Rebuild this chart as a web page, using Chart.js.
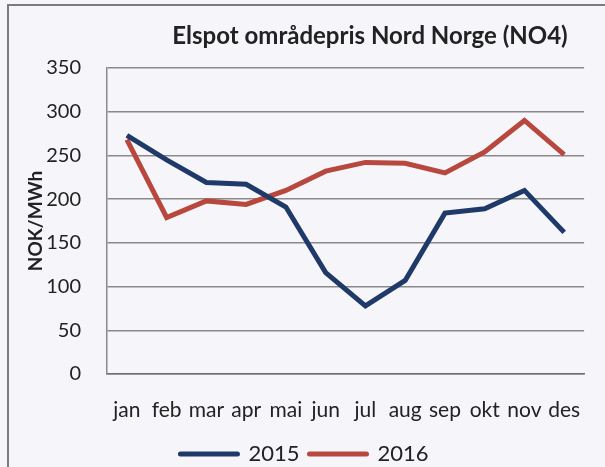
<!DOCTYPE html>
<html>
<head>
<meta charset="utf-8">
<script src="https://cdn.jsdelivr.net/npm/chart.js@4/dist/chart.umd.min.js"></script>
<style>
  html, body { margin: 0; padding: 0; background: #f6f6fa; }
  #wrap { width: 605px; height: 467px; position: relative; }
</style>
</head>
<body>
<div id="wrap"><canvas id="chart" width="605" height="467"></canvas></div>
<script>
// data (NOK/MWh)
var months = ['jan', 'feb', 'mar', 'apr', 'mai', 'jun', 'jul', 'aug', 'sep', 'okt', 'nov', 'des'];
var price2015 = [273, 245, 219, 217, 191, 116, 78, 107, 184, 189, 210, 162];
var price2016 = [268, 179, 198, 194, 210, 232, 242, 241, 230, 254, 290, 251];
var chartTitle = 'Elspot områdepris Nord Norge (NO4)';

var FONT = 'Lato, "Open Sans", sans-serif';

// frame + title, drawn by hand like the original sheet
var framePlugin = {
    id: 'frame',
    beforeDraw: function (chart) {
        var c = chart.ctx;
        c.save();
        c.fillStyle = '#f6f6fa';
        c.fillRect(0, 0, chart.width, chart.height);
        c.strokeStyle = '#7b7b82';
        c.lineWidth = 2;
        c.strokeRect(8, 5, 700, 600);
        c.restore();
    },
    afterDraw: function (chart) {
        var c = chart.ctx;
        c.save();
        c.font = 'bold 24px ' + FONT;
        c.fillStyle = '#222';
        c.textAlign = 'center';
        c.textBaseline = 'middle';
        c.fillText(chartTitle, 370, 36);
        c.restore();
    }
};

var ctx = document.getElementById('chart');
var myChart = new Chart(ctx, {
    type: 'line',
    plugins: [framePlugin],
    data: {
        labels: months,
        datasets: [
            { label: '2015', data: price2015, borderColor: '#1f3a68', backgroundColor: '#1f3a68' },
            { label: '2016', data: price2016, borderColor: '#b8473d', backgroundColor: '#b8473d' }
        ]
    },
    options: {
        responsive: false,
        animation: false,
        elements: {
            line: { borderWidth: 5, tension: 0, borderJoinStyle: 'miter' },
            point: { radius: 0 }
        },
        layout: { padding: { left: 24, top: 68, right: 20, bottom: -8 } },
        scales: {
            x: {
                offset: true,
                grid: { display: false, drawTicks: false },
                border: { display: true, color: '#6f6f6f', width: 1.5 },
                ticks: { color: '#222', font: { family: FONT, size: 21 }, padding: 24, maxRotation: 0, autoSkip: false },
                afterFit: function (scale) { scale.height = 59; }
            },
            y: {
                min: 0,
                max: 350,
                ticks: { stepSize: 50, color: '#222', font: { family: FONT, size: 20 }, padding: 26 },
                grid: { color: '#8a8a8a', lineWidth: 1.5, drawTicks: false },
                border: { display: true, color: '#8a8a8a', width: 1.5 },
                title: { display: true, text: 'NOK/MWh', color: '#222', font: { family: FONT, size: 19, weight: 'bold' }, padding: 0 },
                afterFit: function (scale) { scale.width = 83; }
            }
        },
        plugins: {
            title: { display: false },
            tooltip: { enabled: false },
            legend: {
                position: 'bottom',
                labels: {
                    usePointStyle: true,
                    pointStyle: 'line',
                    pointStyleWidth: 57,
                    padding: 10,
                    color: '#222',
                    font: { family: FONT, size: 22 },
                    generateLabels: function (chart) {
                        var items = Chart.defaults.plugins.legend.labels.generateLabels(chart);
                        items.forEach(function (it) { it.lineCap = 'round'; it.lineWidth = 5; });
                        return items;
                    }
                }
            }
        }
    }
});
</script>
</body>
</html>
